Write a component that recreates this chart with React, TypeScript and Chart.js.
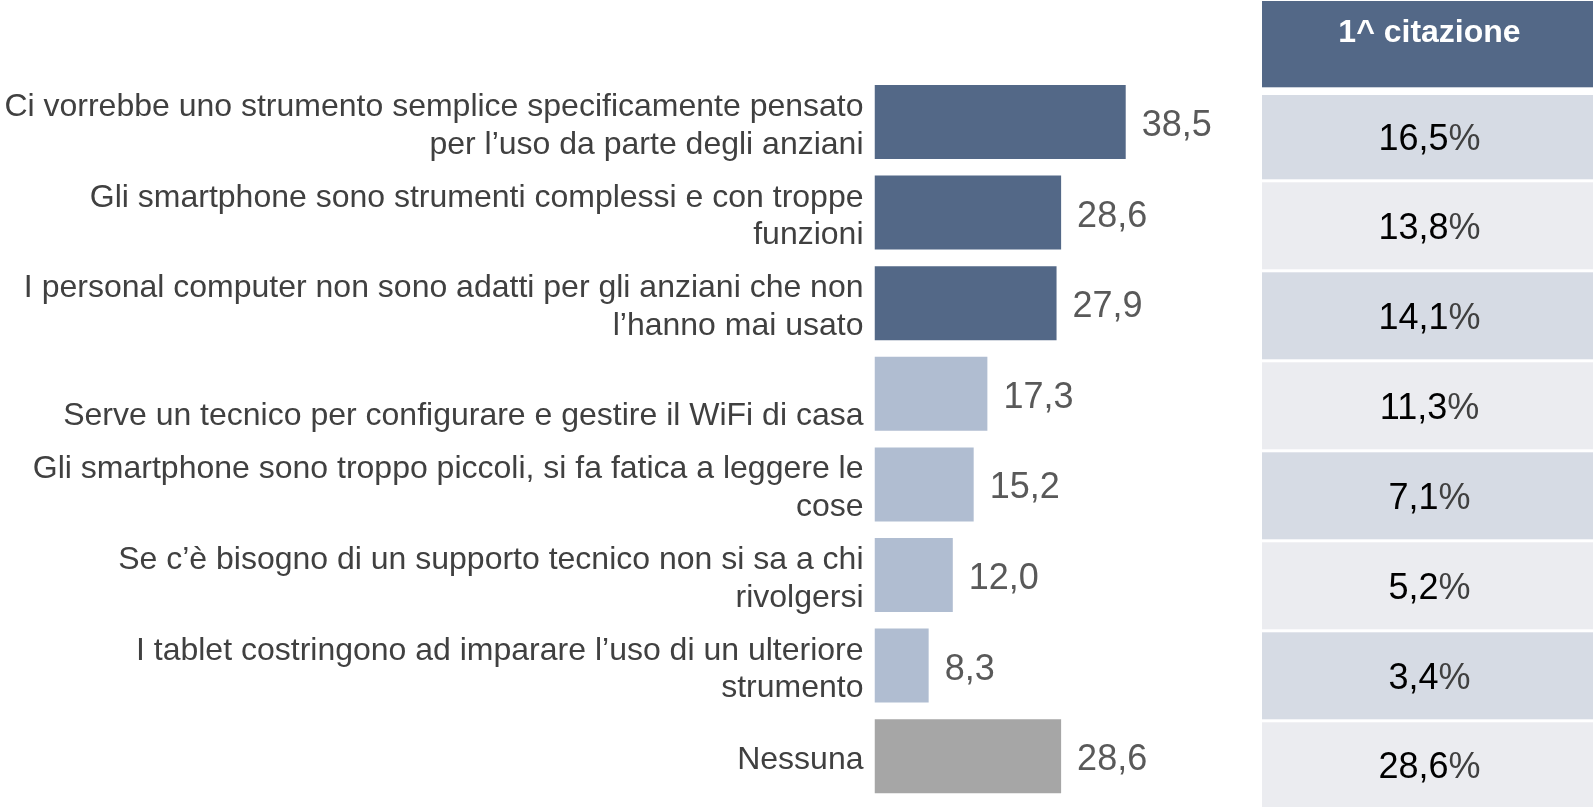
import React, { useEffect, useRef } from 'react';
import { Chart, registerables } from 'chart.js';

Chart.register(...registerables);

const categories: (string | string[])[] = [
  ['Ci vorrebbe uno strumento semplice specificamente pensato', 'per l’uso da parte degli anziani'],
  ['Gli smartphone sono strumenti complessi e con troppe', 'funzioni'],
  ['I personal computer non sono adatti per gli anziani che non', 'l’hanno mai usato'],
  ['', 'Serve un tecnico per configurare e gestire il WiFi di casa'],
  ['Gli smartphone sono troppo piccoli, si fa fatica a leggere le', 'cose'],
  ['Se c’è bisogno di un supporto tecnico non si sa a chi', 'rivolgersi'],
  ['I tablet costringono ad imparare l’uso di un ulteriore', 'strumento'],
  'Nessuna',
];
const values = [38.5, 28.6, 27.9, 17.3, 15.2, 12.0, 8.3, 28.6];
const barColors = ['#536887', '#536887', '#536887', '#B0BDD1', '#B0BDD1', '#B0BDD1', '#B0BDD1', '#A6A6A6'];
const tableHeader = '1^ citazione';
const firstMention = [16.5, 13.8, 14.1, 11.3, 7.1, 5.2, 3.4, 28.6];

const FONT = '"Liberation Sans", Arial, sans-serif';
const fmt = (v: number) => v.toFixed(1).replace('.', ',');

const valueLabels = {
  id: 'valueLabels',
  afterDatasetsDraw(chart: any) {
    const ctx = chart.ctx;
    const meta = chart.getDatasetMeta(0);
    ctx.save();
    ctx.font = `36px ${FONT}`;
    ctx.fillStyle = '#595959';
    ctx.textAlign = 'left';
    ctx.textBaseline = 'middle';
    meta.data.forEach((bar: any, i: number) => {
      ctx.fillText(fmt(values[i]), bar.x + 16, bar.y + 4);
    });
    ctx.restore();
  },
};

const sideTable = {
  id: 'sideTable',
  afterDraw(chart: any) {
    const ctx = chart.ctx;
    const left = 1262;
    const right = chart.width;
    const cx = (left + right) / 2;
    ctx.save();
    ctx.fillStyle = '#536887';
    ctx.fillRect(left, 1, right - left, 86.3);
    ctx.fillStyle = '#FFFFFF';
    ctx.font = `bold 32px ${FONT}`;
    ctx.textAlign = 'center';
    ctx.textBaseline = 'middle';
    ctx.fillText(tableHeader, cx + 2, 33);
    firstMention.forEach((v, i) => {
      const top = i === 0 ? 95 : 92.3 + 90 * i;
      const bottom = Math.min(92.3 + 90 * i + 87, chart.height);
      ctx.fillStyle = i % 2 === 0 ? '#D6DBE4' : '#EBECF0';
      ctx.fillRect(left, top, right - left, bottom - top);
      const cy = (top + bottom) / 2 + 3;
      ctx.font = `36px ${FONT}`;
      ctx.textBaseline = 'middle';
      ctx.textAlign = 'left';
      const num = fmt(v);
      const wNum = ctx.measureText(num).width;
      const wPct = ctx.measureText('%').width;
      const x0 = cx + 2 - (wNum + wPct) / 2;
      ctx.fillStyle = '#000000';
      ctx.fillText(num, x0, cy);
      ctx.fillStyle = '#404040';
      ctx.fillText('%', x0 + wNum, cy);
    });
    ctx.restore();
  },
};

export default function App() {
  const ref = useRef<HTMLCanvasElement>(null);
  useEffect(() => {
    if (!ref.current) return;
    const chart = new Chart(ref.current, {
      type: 'bar',
      data: {
        labels: categories,
        datasets: [
          {
            data: values,
            backgroundColor: barColors,
            borderWidth: 0,
            categoryPercentage: 1,
            barPercentage: 0.817,
          },
        ],
      },
      options: {
        indexAxis: 'y',
        responsive: false,
        animation: false,
        devicePixelRatio: 1,
        layout: { padding: { top: 76.7, bottom: 5.5, left: 0, right: 392.25 } },
        plugins: { legend: { display: false }, tooltip: { enabled: false }, title: { display: false } },
        scales: {
          x: { display: false, min: 0, max: 50 },
          y: {
            grid: { display: false, drawTicks: false },
            border: { display: false },
            afterFit: (scale: any) => {
              scale.width = 874.5;
              scale.paddingTop = 0;
              scale.paddingBottom = 0;
            },
            ticks: {
              padding: 11,
              labelOffset: 4,
              color: '#404040',
              font: { family: FONT, size: 32, lineHeight: '37.5px' },
            },
          },
        },
      },
      plugins: [valueLabels, sideTable],
    });
    return () => chart.destroy();
  }, []);
  return (
    <div style={{ position: 'absolute', left: 0, top: 0, width: 1593, height: 807, background: '#fff' }}>
      <canvas ref={ref} width={1593} height={807} />
    </div>
  );
}
